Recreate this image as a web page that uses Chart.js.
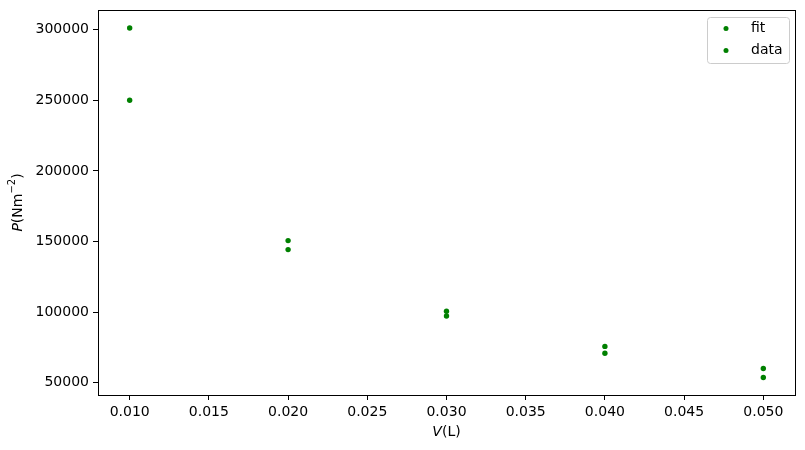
<!DOCTYPE html>
<html>
<head>
<meta charset="utf-8">
<script src="https://cdn.jsdelivr.net/npm/chart.js@4"></script>
<style>
html,body{margin:0;padding:0;background:#fff;}
#wrap{width:805px;height:450px;}
</style>
</head>
<body>
<div id="wrap"><canvas id="c" width="805" height="450"></canvas></div>
<script>
const volumes = [0.01, 0.02, 0.03, 0.04, 0.05];
const fitValues = [301200, 150700, 100700, 75800, 60200];
const dataValues = [250000, 144300, 97300, 71000, 53800];
const xTicks = [0.010, 0.015, 0.020, 0.025, 0.030, 0.035, 0.040, 0.045, 0.050];
const yTicks = [50000, 100000, 150000, 200000, 250000, 300000];
const seriesNames = ['fit', 'data'];

const FONT = 'DejaVu Sans';
const green = '#008000';

const boxAndLabels = {
  id: 'boxAndLabels',
  afterDraw(chart) {
    const ctx = chart.ctx, a = chart.chartArea;
    ctx.save();
    ctx.strokeStyle = '#000';
    ctx.lineWidth = 1;
    ctx.strokeRect(Math.round(a.left) + 0.5, Math.round(a.top) + 0.5, Math.round(a.right - a.left), Math.round(a.bottom - a.top));
    ctx.fillStyle = '#000';
    ctx.textBaseline = 'middle';
    const xt1 = 'V', xt2 = '(L)';
    ctx.font = 'italic 14px "' + FONT + '"';
    const w1 = ctx.measureText(xt1).width;
    ctx.font = '14px "' + FONT + '"';
    const w2 = ctx.measureText(xt2).width;
    const cx = (a.left + a.right) / 2;
    let sx = cx - (w1 + w2) / 2;
    ctx.textAlign = 'left';
    ctx.font = 'italic 14px "' + FONT + '"';
    ctx.fillText(xt1, sx, 432);
    ctx.font = '14px "' + FONT + '"';
    ctx.fillText(xt2, sx + w1, 432);
    ctx.translate(18, (a.top + a.bottom) / 2);
    ctx.rotate(-Math.PI / 2);
    const parts = [
      {t: 'P', f: 'italic 14px "' + FONT + '"', dy: 0},
      {t: '(Nm', f: '14px "' + FONT + '"', dy: 0},
      {t: '\u22122', f: '10px "' + FONT + '"', dy: -6},
      {t: ')', f: '14px "' + FONT + '"', dy: 0}
    ];
    let total = 0;
    parts.forEach(p => { ctx.font = p.f; p.w = ctx.measureText(p.t).width; total += p.w; });
    let px = -total / 2;
    parts.forEach(p => { ctx.font = p.f; ctx.fillText(p.t, px, p.dy); px += p.w; });
    ctx.restore();

    ctx.save();
    const lx = 707, ly = 17, lw = 82, lh = 46;
    ctx.beginPath();
    ctx.roundRect(lx + 0.5, ly + 0.5, lw, lh, 3);
    ctx.fillStyle = 'rgba(255,255,255,0.8)';
    ctx.fill();
    ctx.strokeStyle = '#cccccc';
    ctx.lineWidth = 1;
    ctx.stroke();
    ctx.font = '14px "' + FONT + '"';
    ctx.textBaseline = 'middle';
    ctx.textAlign = 'left';
    chart.data.datasets.forEach((ds, i) => {
      const yy = 28.5 + i * 22;
      ctx.beginPath();
      ctx.arc(726, yy, 2.5, 0, Math.PI * 2);
      ctx.fillStyle = green;
      ctx.fill();
      ctx.fillStyle = '#000';
      ctx.fillText(ds.label, 751, yy);
    });
    ctx.restore();
  }
};

const mkPts = (vals) => volumes.map((v, i) => ({x: v, y: vals[i]}));

new Chart(document.getElementById('c'), {
  type: 'scatter',
  data: {
    datasets: [
      {label: seriesNames[0], data: mkPts(fitValues), backgroundColor: green, borderColor: green, pointRadius: 2.7, borderWidth: 0, pointHoverRadius: 2.7},
      {label: seriesNames[1], data: mkPts(dataValues), backgroundColor: green, borderColor: green, pointRadius: 2.7, borderWidth: 0, pointHoverRadius: 2.7}
    ]
  },
  options: {
    responsive: false,
    animation: false,
    devicePixelRatio: 1,
    layout: {padding: {top: 10, right: 10, left: 0, bottom: 0}},
    plugins: {legend: {display: false}, tooltip: {enabled: false}},
    scales: {
      x: {
        type: 'linear', min: 0.008, max: 0.052,
        afterBuildTicks: s => { s.ticks = xTicks.map(v => ({value: v})); },
        afterFit: s => { s.height = 55; s.paddingLeft = 0; s.paddingRight = 0; },
        grid: {display: true, drawOnChartArea: false, drawTicks: true, tickLength: 5, color: '#000'},
        border: {display: true, color: '#000'},
        ticks: {font: {family: FONT, size: 14}, color: '#000', padding: 4, maxRotation: 0, autoSkip: false,
          callback: v => Number(v).toFixed(3)}
      },
      y: {
        type: 'linear', min: 41400, max: 313900,
        afterBuildTicks: s => { s.ticks = yTicks.map(v => ({value: v})); },
        afterFit: s => { s.width = 98; s.paddingTop = 0; s.paddingBottom = 0; },
        grid: {display: true, drawOnChartArea: false, drawTicks: true, tickLength: 5, color: '#000'},
        border: {display: true, color: '#000'},
        ticks: {font: {family: FONT, size: 14}, color: '#000', padding: 4, autoSkip: false,
          callback: v => String(v)}
      }
    }
  },
  plugins: [boxAndLabels]
});
</script>
</body>
</html>
